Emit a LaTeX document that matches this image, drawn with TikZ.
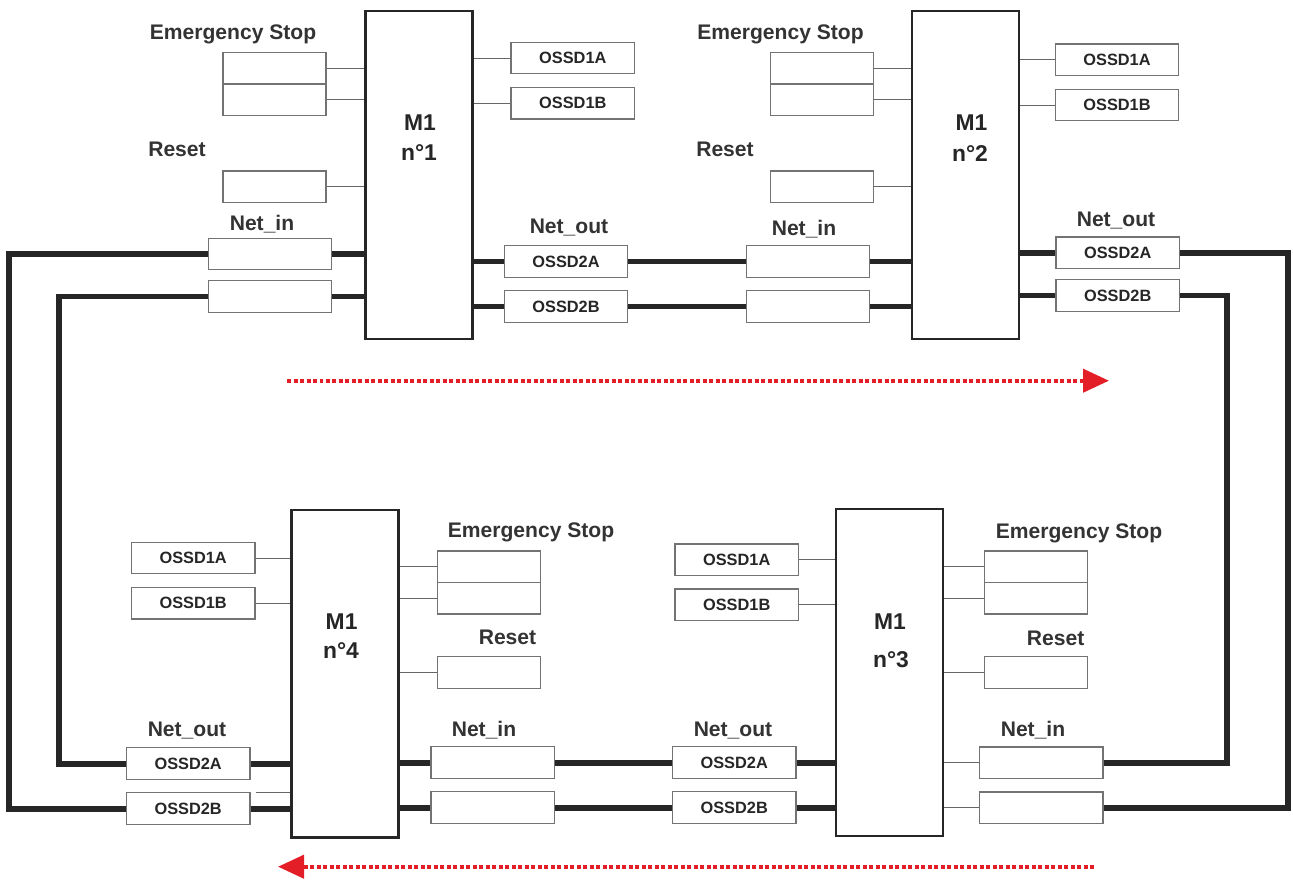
\documentclass[tikz,border=0pt]{standalone}
\usepackage{fontspec}
\setmainfont{Liberation Sans}
\usetikzlibrary{positioning,arrows.meta}

\begin{document}
\begin{tikzpicture}[x=0.02cm, y=-0.02cm, font=\bfseries,
		modul/.style={rectangle, draw=black!85, line width=1.3pt, minimum width=2.14cm, minimum height=6.55cm, inner sep=0pt},
		port/.style={rectangle, draw=black!55, line width=0.7pt, fill=white, minimum width=2.47cm, minimum height=0.63cm, inner sep=0pt, font=\fontsize{9.3}{11}\selectfont\bfseries, text=black!85},
		taste/.style={port, minimum width=2.06cm},
		beschr/.style={anchor=base, inner sep=0pt, font=\fontsize{12}{14}\selectfont\bfseries, text=black!80},
		modtext/.style={anchor=base, inner sep=0pt, font=\fontsize{13}{15}\selectfont\bfseries, text=black!85},
		draht/.style={draw=black!60, line width=0.55pt},
		bus/.style={draw=black!85, line width=3.4pt},
		fluss/.style={draw=flussrot, line width=2.3pt, dash pattern=on 0.08cm off 0.05cm, -{Triangle[length=5.2mm, width=4.6mm]}}]

		% Farben definieren
		\definecolor{flussrot}{RGB}{228,30,38}

		% Rahmen
		\useasboundingbox[fill=white] (0,0) rectangle (1293,879);

		% --- Modul 1 (oben links) ---
		\node[modul] (m1) at (419,175) {};
		\node[modtext] (m1a) at (420,130) {M1};
		\node[modtext] (m1b) at (419,160) {n°1};
		\node[beschr] (es1) at (233,39) {Emergency Stop};
		\node[taste] (es1a) at (274.5,68.3) {};
		\node[taste, below=-0.7pt of es1a] (es1b) {};
		\node[beschr] (rs1t) at (177,156.7) {Reset};
		\node[taste] (rs1) at (274.5,186.7) {};
		\node[port] (o1a1) at (572.8,58) {OSSD1A};
		\node[port] (o1b1) at (572.8,103.2) {OSSD1B};
		\node[beschr] (ni1) at (262,230.7) {Net\_in};
		\node[port] (ni1a) at (270,254) {};
		\node[port] (ni1b) at (270,296.5) {};
		\node[beschr] (no1) at (569,233.3) {Net\_out};
		\node[port] (o2a1) at (566,261.5) {OSSD2A};
		\node[port] (o2b1) at (566,306.5) {OSSD2B};

		% --- Modul 2 (oben rechts) ---
		\node[modul] (m2) at (965.3,175) {};
		\node[modtext] (m2a) at (971.5,130) {M1};
		\node[modtext] (m2b) at (970,161.7) {n°2};
		\node[beschr] (es2) at (780.5,39.3) {Emergency Stop};
		\node[taste] (es2a) at (821.7,68.3) {};
		\node[taste, below=-0.7pt of es2a] (es2b) {};
		\node[beschr] (rs2t) at (725,156.7) {Reset};
		\node[taste] (rs2) at (821.7,186.7) {};
		\node[port] (o1a2) at (1117,59.8) {OSSD1A};
		\node[port] (o1b2) at (1117,105) {OSSD1B};
		\node[beschr] (ni2) at (804,235) {Net\_in};
		\node[port] (ni2a) at (808,261.5) {};
		\node[port] (ni2b) at (808,306.5) {};
		\node[beschr] (no2) at (1116,226.7) {Net\_out};
		\node[port] (o2a2) at (1117.7,252.8) {OSSD2A};
		\node[port] (o2b2) at (1117.7,295.5) {OSSD2B};

		% --- Modul 3 (unten rechts) ---
		\node[modul] (m3) at (889.5,672.5) {};
		\node[modtext] (m3a) at (890,629.3) {M1};
		\node[modtext] (m3b) at (891,667.7) {n°3};
		\node[port] (o1a3) at (736.7,559.8) {OSSD1A};
		\node[port] (o1b3) at (736.7,604.8) {OSSD1B};
		\node[beschr] (es3) at (1079,538.3) {Emergency Stop};
		\node[taste] (es3a) at (1036.2,566.7) {};
		\node[taste, below=-0.7pt of es3a] (es3b) {};
		\node[beschr] (rs3t) at (1055.6,645) {Reset};
		\node[taste] (rs3) at (1036.2,672.5) {};
		\node[beschr] (no3) at (733,736) {Net\_out};
		\node[port] (o2a3) at (734.2,762.5) {OSSD2A};
		\node[port] (o2b3) at (734.2,807.5) {OSSD2B};
		\node[beschr] (ni3) at (1033,736) {Net\_in};
		\node[port] (ni3a) at (1041.3,762.8) {};
		\node[port] (ni3b) at (1041.3,807.8) {};

		% --- Modul 4 (unten links) ---
		\node[modul] (m4) at (345,673.7) {};
		\node[modtext] (m4a) at (341.6,629.3) {M1};
		\node[modtext] (m4b) at (341,658.3) {n°4};
		\node[port] (o1a4) at (193.2,558) {OSSD1A};
		\node[port] (o1b4) at (193.2,603.2) {OSSD1B};
		\node[beschr] (es4) at (531,537.7) {Emergency Stop};
		\node[taste] (es4a) at (489.2,566.7) {};
		\node[taste, below=-0.7pt of es4a] (es4b) {};
		\node[beschr] (rs4t) at (507.5,644.3) {Reset};
		\node[taste] (rs4) at (489.2,672.5) {};
		\node[beschr] (no4) at (187,736) {Net\_out};
		\node[port] (o2a4) at (188.2,763.5) {OSSD2A};
		\node[port] (o2b4) at (188.2,808.5) {OSSD2B};
		\node[beschr] (ni4) at (484,736) {Net\_in};
		\node[port] (ni4a) at (492.7,762.5) {};
		\node[port] (ni4b) at (492.7,807.5) {};

		% Eckpunkte der Ringleitung
		\coordinate (kr1) at (1288,0);
		\coordinate (kr2) at (1227,0);
		\coordinate (kl1) at (59,0);
		\coordinate (kl2) at (9,0);

		% --- duenne Leitungen ---
		\draw[draht] (es1a.east) -- (es1a.east -| m1.west) (es1b.east) -- (es1b.east -| m1.west) (rs1.east) -- (rs1.east -| m1.west);
		\draw[draht] (o1a1.west -| m1.east) -- (o1a1.west) (o1b1.west -| m1.east) -- (o1b1.west);
		\draw[draht] (es2a.east) -- (es2a.east -| m2.west) (es2b.east) -- (es2b.east -| m2.west) (rs2.east) -- (rs2.east -| m2.west);
		\draw[draht] (o1a2.west -| m2.east) -- (o1a2.west) (o1b2.west -| m2.east) -- (o1b2.west);
		\draw[draht] (o1a3.east) -- (o1a3.east -| m3.west) (o1b3.east) -- (o1b3.east -| m3.west);
		\draw[draht] (es3a.west -| m3.east) -- (es3a.west) (es3b.west -| m3.east) -- (es3b.west) (rs3.west -| m3.east) -- (rs3.west);
		\draw[draht] (ni3a.west -| m3.east) -- (ni3a.west) (ni3b.west -| m3.east) -- (ni3b.west);
		\draw[draht] (o1a4.east) -- (o1a4.east -| m4.west) (o1b4.east) -- (o1b4.east -| m4.west);
		\draw[draht] (es4a.west -| m4.east) -- (es4a.west) (es4b.west -| m4.east) -- (es4b.west) (rs4.west -| m4.east) -- (rs4.west);
		\draw[draht] ([xshift=0.1cm]o2b4.north east) -- (o2b4.north east -| m4.west);

		% --- Netzwerk (dicke Leitungen) ---
		\draw[bus] (ni1a.east) -- (ni1a.east -| m1.west) (ni1b.east) -- (ni1b.east -| m1.west);
		\draw[bus] (o2a1.west -| m1.east) -- (o2a1.west) (o2b1.west -| m1.east) -- (o2b1.west);
		\draw[bus] (o2a1.east) -- (ni2a.west) (o2b1.east) -- (ni2b.west);
		\draw[bus] (ni2a.east) -- (ni2a.east -| m2.west) (ni2b.east) -- (ni2b.east -| m2.west);
		\draw[bus] (o2a2.west -| m2.east) -- (o2a2.west) (o2b2.west -| m2.east) -- (o2b2.west);
		\draw[bus] (o2a2.east) -| (kr1 |- ni3b.east) -- (ni3b.east);
		\draw[bus] (o2b2.east) -| (kr2 |- ni3a.east) -- (ni3a.east);
		\draw[bus] (o2a3.east) -- (o2a3.east -| m3.west) (o2b3.east) -- (o2b3.east -| m3.west);
		\draw[bus] (ni4a.east) -- (o2a3.west) (ni4b.east) -- (o2b3.west);
		\draw[bus] (ni4a.west -| m4.east) -- (ni4a.west) (ni4b.west -| m4.east) -- (ni4b.west);
		\draw[bus] (o2a4.east) -- (o2a4.east -| m4.west) (o2b4.east) -- (o2b4.east -| m4.west);
		\draw[bus] (o2a4.west) -| (kl1 |- ni1b.west) -- (ni1b.west);
		\draw[bus] (o2b4.west) -| (kl2 |- ni1a.west) -- (ni1a.west);

		% --- Flussrichtung ---
		\coordinate (f1s) at (287,380.7);
		\coordinate (f1e) at (1109,380.7);
		\coordinate (f2s) at (1094,866.7);
		\coordinate (f2e) at (278,866.7);
		\draw[fluss] (f1s) -- (f1e);
		\draw[fluss] (f2s) -- (f2e);

	\end{tikzpicture}
\end{document}
